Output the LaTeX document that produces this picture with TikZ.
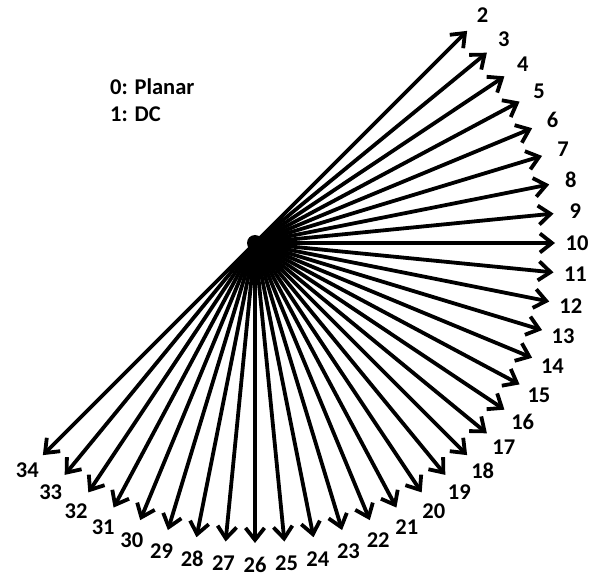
\documentclass[tikz,border=0pt]{standalone}
\usepackage{fontspec}
\setmainfont{Carlito}
\usetikzlibrary{arrows.meta,calc}
\begin{document}
\begin{tikzpicture}[x=1pt,y=1pt,
  ray/.style={line width=3.8pt,-{Straight Barb[length=12pt,width=19pt,line width=3.8pt]}},
  lab/.style={font=\fontsize{22.5}{26}\selectfont\bfseries,inner sep=0pt},
  hub/.style={circle,fill=black,minimum size=16pt,inner sep=0pt}]
\useasboundingbox (0,0) rectangle (590,-580);
\node[hub] (c) at (255,-243) {};
\foreach \i in {2,...,34}{
  \pgfmathsetmacro{\ang}{45-(\i-2)*5.625}
  \coordinate (t\i) at ($(255,-243)+(\ang:300)$);
  \node[lab] (l\i) at ($(255,-243)+(\ang:322)$) {\i};
  \draw[ray] (c.center) -- (t\i);
}
\node[lab,anchor=base west] (leg0) at (110,-95) {0: Planar};
\node[lab,anchor=base west] (leg1) at (110,-122) {1: DC};
\end{tikzpicture}
\end{document}
